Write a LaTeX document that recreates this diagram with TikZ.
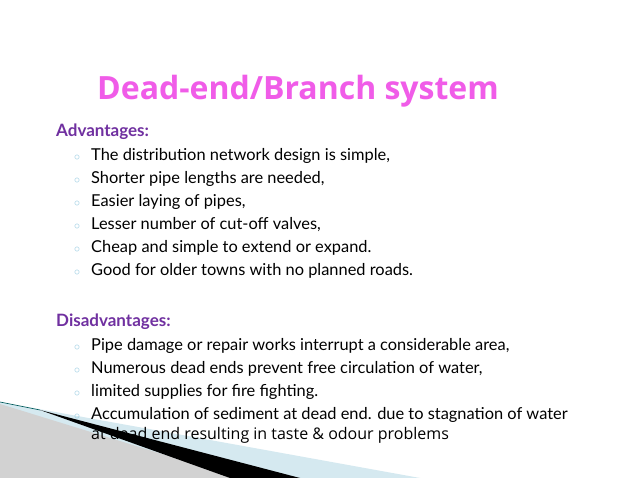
\documentclass[tikz,border=0pt]{standalone}
\usepackage{fontspec}
\setmainfont{Lato}
\newfontfamily\opensans{Open Sans}
\definecolor{ttl}{HTML}{F05CE8}
\definecolor{hd}{HTML}{7030A0}
\definecolor{lb}{HTML}{D5E9F0}
\definecolor{bl}{HTML}{8FC8E0}
\begin{document}
\begin{tikzpicture}[x=1pt,y=-1pt,
  bul/.style={anchor=base west,font=\fontsize{16.4}{18}\selectfont,inner sep=0},
  dot/.style={anchor=base west,font=\fontsize{13}{14}\selectfont,text=bl,inner sep=0},
  head/.style={anchor=base west,font=\fontsize{17}{19}\selectfont\bfseries,text=hd,inner sep=0}]
\useasboundingbox (0,0) rectangle (638,478);
\fill[white] (0,0) rectangle (638,478);
% decoration
\fill[lb] (0,402) -- (420,478) -- (0,478) -- cycle;
\fill[gray!35] (0,404) -- (240,478) -- (0,478) -- cycle;
\fill[black] (40,410) -- (300,478) -- (230,478) -- cycle;
\draw[teal!70!black,line width=0.6] (0,402) -- (40,410);
% title
\node[anchor=base west,inner sep=0,text=ttl,font=\opensans\fontsize{32}{36}\selectfont\bfseries] (t) at (97,100) {Dead-end/Branch system};
\node[head] (a) at (56,137) {Advantages:};
\foreach \i/\s in {0/{The distribution network design is simple,},1/{Shorter pipe lengths are needed,},2/{Easier laying of pipes,},3/{Lesser number of cut-off valves,},4/{Cheap and simple to extend or expand.},5/{Good for older towns with no planned roads.}}{
  \node[dot] (d\i) at (74,161+23*\i) {$\circ$};
  \node[bul] (b\i) at (91,161+23*\i) {\s};
}
\node[head] (dd) at (56,327) {Disadvantages:};
\foreach \i/\s in {0/{Pipe damage or repair works interrupt a considerable area,},1/{Numerous dead ends prevent free circulation of water,},2/{limited supplies for fire fighting.}}{
  \node[dot] (e\i) at (74,351+23*\i) {$\circ$};
  \node[bul] (c\i) at (91,351+23*\i) {\s};
}
\node[dot] (e3) at (74,420) {$\circ$};
\node[bul] (c3) at (91,420) {Accumulation of sediment at dead end. due to stagnation of water};
\node[anchor=base west,inner sep=0,font=\opensans\fontsize{16}{18}\selectfont] (c4) at (91,440) {at dead end resulting in taste \& odour problems};
\end{tikzpicture}
\end{document}
